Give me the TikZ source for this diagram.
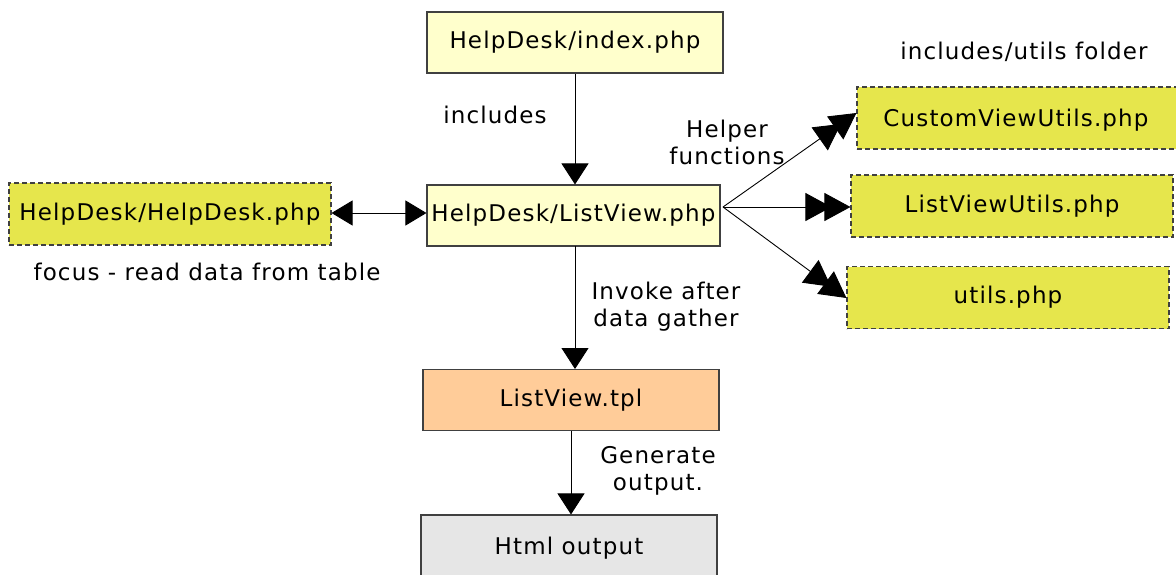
\documentclass[tikz,border=0pt]{standalone}
\usepackage{fontspec}
\setmainfont[LetterSpace=5]{DejaVu Sans}
\usetikzlibrary{arrows.meta}
\definecolor{lightyel}{HTML}{FFFFCC}
\definecolor{darkyel}{HTML}{E6E64C}
\definecolor{orangebox}{HTML}{FFCC99}
\definecolor{graybox}{HTML}{E6E6E6}
\definecolor{boxborder}{HTML}{404040}
\tikzset{
  every node/.style={font=\fontsize{23}{27}\selectfont, inner sep=0pt},
  solidbox/.style={draw=boxborder, line width=1.1pt, minimum height=61pt},
  dashbox/.style={draw=boxborder, line width=1.1pt, dash pattern=on 5pt off 3pt, fill=darkyel, minimum width=322pt, minimum height=62pt},
  lbl/.style={align=center},
  conn/.style={draw=black, line width=0.9pt},
  onehead/.style={conn, -{Triangle[length=21pt,width=27pt]}},
  twohead/.style={conn, {Triangle[length=21pt,width=25pt]}-{Triangle[length=21pt,width=25pt]}},
  dblhead/.style={conn, -{Triangle[length=26pt,width=28pt,sep=-7pt]Triangle[length=26pt,width=28pt]}}
}
\begin{document}
\begin{tikzpicture}[x=1pt,y=-1pt]
\useasboundingbox (0,0) rectangle (1176,574);
\clip (0,0) rectangle (1176,574);
\fill[white] (0,0) rectangle (1176,574);
% boxes
\node[solidbox, fill=lightyel, minimum width=296pt] (index) at (575,42.5) {HelpDesk/index.php};
\node[solidbox, fill=lightyel, minimum width=293pt] (lv) at (573.5,215.5) {HelpDesk/ListView.php};
\node[dashbox] (hd) at (170,214) {HelpDesk/HelpDesk.php};
\node[dashbox, minimum width=330pt] (cvu) at (1022,118) {};
\node at (1016,120) {CustomViewUtils.php};
\node[dashbox] (lvu) at (1012,206) {ListViewUtils.php};
\node[dashbox] (ut) at (1008,297.5) {utils.php};
\node[solidbox, fill=orangebox, minimum width=296pt] (tpl) at (571,400) {ListView.tpl};
\node[solidbox, fill=graybox, minimum width=296pt, minimum height=70pt] (html) at (569,550) {};
\node at (569,548) {Html output};
% labels
\node[lbl] (l1) at (495,115) {includes};
\node[lbl] (l2) at (727,142) {Helper\\functions};
\node[lbl] (l3) at (1024,52) {includes/utils folder};
\node[lbl] (l4) at (207,272) {focus - read data from table};
\node[lbl] (l5) at (666,307) {Invoke after\\data gather};
\node[lbl] (l6) at (658,471) {Generate\\output.};
% connectors
\coordinate (src) at (723,207);
\draw[onehead] (index.south) -- (index.south |- lv.north);
\draw[twohead] (hd.east |- 0,213) -- (lv.west |- 0,213);
\draw[onehead] (575,246) -- (575,369);
\draw[onehead] (tpl.south) -- (tpl.south |- html.north);
\draw[dblhead] (src) -- (cvu.west |- 0,113);
\draw[dblhead] (src) -- (lvu.west |- 0,207);
\draw[dblhead] (src) -- (ut.west |- 0,298);
\end{tikzpicture}
\end{document}
